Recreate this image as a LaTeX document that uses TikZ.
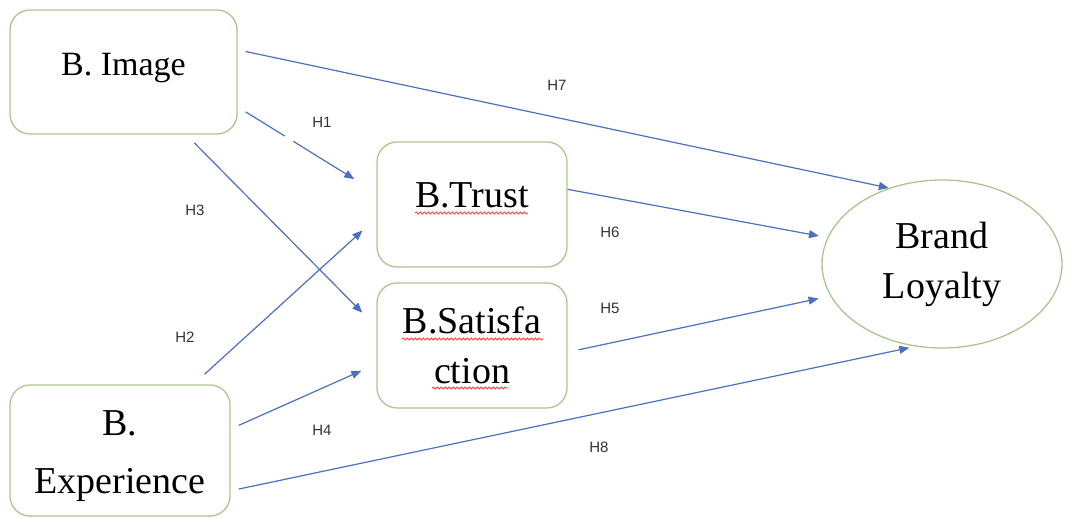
\documentclass[tikz,border=0pt]{standalone}
\usepackage{fontspec}
\setmainfont{Liberation Serif}
\newfontfamily\hypfont{Liberation Sans}
\usetikzlibrary{arrows.meta,shapes.geometric,decorations.pathmorphing}

\definecolor{boxgreen}{RGB}{172,198,142}
\definecolor{linkblue}{RGB}{74,112,190}

\tikzset{
  box/.style={draw=boxgreen,line width=0.65pt,rounded corners=10pt,fill=white,inner sep=0pt,align=center,minimum width=95pt,minimum height=62.5pt,font=\rmfamily\fontsize{19}{25}\selectfont},
  link/.style={draw=linkblue,line width=0.6pt,-{Triangle[length=5pt,width=4pt]}},
  hyp/.style={font=\hypfont\fontsize{7.5}{9}\selectfont,text=black!80},
  spell/.style={red!75,line width=0.4pt,decorate,decoration={snake,amplitude=0.5pt,segment length=2pt}}
}

\begin{document}
\begin{tikzpicture}[x=0.5pt,y=0.5pt]
\useasboundingbox (0,0) rectangle (1077,518);
\node (image) [box,minimum width=113.5pt,minimum height=62pt,font=\rmfamily\fontsize{17}{21}\selectfont] at (123.5,446) {\raisebox{-1.6pt}[0pt][0pt]{B. Image}};
\node (trust) [box] at (472,313.5) {\raisebox{-1.5pt}[0pt][0pt]{B.Trust}};
\node (satis) [box] at (472,172.5) {B.Satisfa\\ction};
\node (exper) [box,minimum width=110pt,minimum height=65.5pt,font=\rmfamily\fontsize{19}{29}\selectfont] at (120,67.5) {\raisebox{-7.25pt}[0pt][0pt]{\parbox{100pt}{\centering B.\\Experience}}};
\node (loyalty) [draw=boxgreen,line width=0.65pt,ellipse,fill=white,inner sep=0pt,align=center,minimum width=120pt,minimum height=84pt,font=\rmfamily\fontsize{19}{25}\selectfont] at (942,254) {Brand\\Loyalty};

\draw[spell] (415,305) -- (528,305);
\draw[spell] (402,179) -- (543,179);
\draw[spell] (432,130) -- (508,130);

\draw[link,shorten <=4pt] (image.11) -- (loyalty.125);
\draw[link,dash pattern=on 23pt off 5pt on 100pt off 5pt,shorten <=4.7pt,shorten >=13pt] (image.-17) -- (trust.173);
\draw[link,shorten <=5.7pt,shorten >=10pt] (image.-45) -- (satis.169);
\draw[link,shorten <=7.4pt,shorten >=9.4pt] (exper.42) -- (trust.188);
\draw[link,shorten <=4.4pt,shorten >=8.2pt] (exper.11) -- (satis.191);
\draw[link,shorten <=4.1pt,shorten >=3pt] (exper.-20) -- (loyalty.252);
\draw[link,shorten >=4.3pt] (trust.9) -- (loyalty.167);
\draw[link,shorten <=5.6pt,shorten >=6pt] (satis.-4) -- (loyalty.196);

\node (h1) [hyp] at (322,396) {H1};
\node (h2) [hyp] at (185,181) {H2};
\node (h3) [hyp] at (195,308) {H3};
\node (h4) [hyp] at (322,88) {H4};
\node (h5) [hyp] at (610,210) {H5};
\node (h6) [hyp] at (610,286) {H6};
\node (h7) [hyp] at (557,433) {H7};
\node (h8) [hyp] at (599,71) {H8};
\end{tikzpicture}
\end{document}
